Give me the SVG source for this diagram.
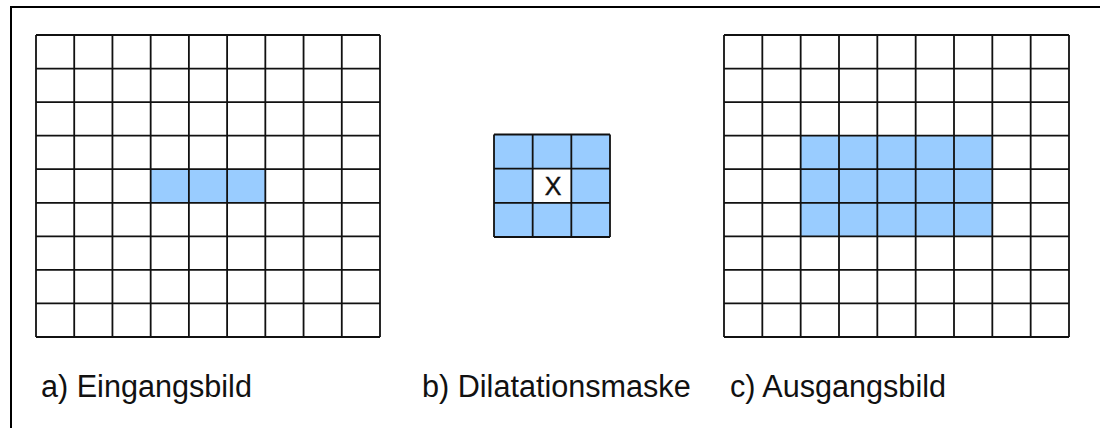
<svg xmlns="http://www.w3.org/2000/svg" width="1100" height="428" viewBox="0 0 1100 428">
<style>
.bg{fill:#ffffff}
.frame{fill:none;stroke:#000;stroke-width:2}
.cell{fill:#99ccff}
.grid{fill:none;stroke:#111;stroke-width:1.8}
.lbl{font-family:"Liberation Sans",Arial,sans-serif;font-size:30.6px;fill:#111}
.mark{font-family:"Liberation Sans",Arial,sans-serif;font-size:25px;fill:#111;stroke:#111;stroke-width:0.4;text-anchor:middle}
</style>
<rect class="bg" x="0" y="0" width="1100" height="428"/>
<rect class="frame" x="11" y="7" width="1100" height="440"/>
<g id="eingangsbild">
<rect class="cell" x="150.67" y="169.22" width="114.66" height="33.56"/>
<path class="grid" d="M36 35V337M74.22 35V337M112.44 35V337M150.67 35V337M188.89 35V337M227.11 35V337M265.33 35V337M303.56 35V337M341.78 35V337M380 35V337M36 35H380M36 68.56H380M36 102.11H380M36 135.67H380M36 169.22H380M36 202.78H380M36 236.33H380M36 269.89H380M36 303.44H380M36 337H380"/>
</g>
<g id="dilatationsmaske">
<rect class="cell" x="494" y="134.5" width="116" height="102.5"/>
<rect fill="#ffffff" x="532.67" y="168.67" width="38.66" height="34.16"/>
<path class="grid" d="M494 134.5V237M532.67 134.5V237M571.33 134.5V237M610 134.5V237M494 134.5H610M494 168.67H610M494 202.83H610M494 237H610"/>
<text class="mark" x="553" y="195">X</text>
</g>
<g id="ausgangsbild">
<rect class="cell" x="800.67" y="135.67" width="191.66" height="100.66"/>
<path class="grid" d="M724 35V337M762.33 35V337M800.67 35V337M839 35V337M877.33 35V337M915.67 35V337M954 35V337M992.33 35V337M1030.67 35V337M1069 35V337M724 35H1069M724 68.56H1069M724 102.11H1069M724 135.67H1069M724 169.22H1069M724 202.78H1069M724 236.33H1069M724 269.89H1069M724 303.44H1069M724 337H1069"/>
</g>
<g id="labels">
<text class="lbl" x="41" y="397">a) Eingangsbild</text>
<text class="lbl" x="422" y="397">b) Dilatationsmaske</text>
<text class="lbl" x="730" y="397">c) Ausgangsbild</text>
</g>
</svg>
